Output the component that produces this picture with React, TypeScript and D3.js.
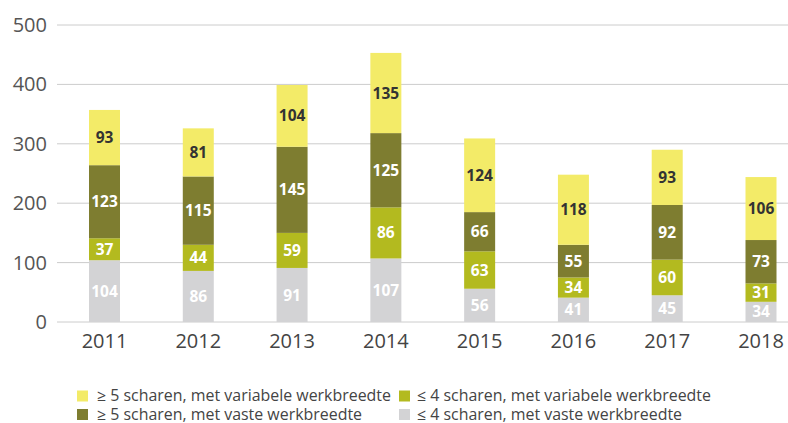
import React from "react";
import * as d3 from "d3";

const years = ["2011", "2012", "2013", "2014", "2015", "2016", "2017", "2018"];
const le4Fixed = [104, 86, 91, 107, 56, 41, 45, 34];
const le4Variable = [37, 44, 59, 86, 63, 34, 60, 31];
const ge5Fixed = [123, 115, 145, 125, 66, 55, 92, 73];
const ge5Variable = [93, 81, 104, 135, 124, 118, 93, 106];
const yTicks = [0, 100, 200, 300, 400, 500];

const seriesNames = [
  "≤ 4 scharen, met vaste werkbreedte",
  "≤ 4 scharen, met variabele werkbreedte",
  "≥ 5 scharen, met vaste werkbreedte",
  "≥ 5 scharen, met variabele werkbreedte",
];
const seriesColors = ["#d3d3d5", "#b3ba1f", "#7e7d30", "#f3eb68"];
const labelColors = ["#ffffff", "#ffffff", "#ffffff", "#333333"];

const W = 788;
const H = 423;
const FONT = "'Open Sans', sans-serif";

export default function App() {
  const table = years.map((y, i) => ({
    year: y,
    s0: le4Fixed[i],
    s1: le4Variable[i],
    s2: ge5Fixed[i],
    s3: ge5Variable[i],
  }));
  const stack = d3.stack<any>().keys(["s0", "s1", "s2", "s3"])(table);

  const x = d3.scalePoint<string>().domain(years).range([104.5, 761]);
  const y = d3.scaleLinear().domain([0, 500]).range([322, 25]);
  const barW = 31;

  const legendItems = [
    { idx: 3, x: 77, tx: 97, y: 396 },
    { idx: 1, x: 399, tx: 417, y: 396 },
    { idx: 2, x: 77, tx: 97, y: 414.5 },
    { idx: 0, x: 399, tx: 417, y: 414.5 },
  ];

  return (
    <div style={{ position: "fixed", left: 0, top: 0 }}>
      <svg width={W} height={H} style={{ display: "block", background: "#fff" }}>
        {yTicks.map((t) => (
          <g key={t}>
            <line x1={57} x2={788} y1={y(t)} y2={y(t)} stroke="#cccccc" strokeWidth={1} />
            <text
              x={47}
              y={y(t)}
              dy="0.35em"
              textAnchor="end"
              fontFamily={FONT}
              fontSize={20}
              fill="#555555"
            >
              {t}
            </text>
          </g>
        ))}
        {stack.map((layer, si) => (
          <g key={si}>
            {layer.map((d, i) => {
              const yTop = y(d[1]);
              const yBot = y(d[0]);
              const cx = x(years[i])!;
              return (
                <g key={i}>
                  <rect
                    x={cx - barW / 2}
                    y={yTop}
                    width={barW}
                    height={yBot - yTop}
                    fill={seriesColors[si]}
                  />
                  <text
                    x={cx}
                    y={(yTop + yBot) / 2}
                    dy="0.36em"
                    textAnchor="middle"
                    fontFamily={FONT}
                    fontWeight={700}
                    fontSize={15.5}
                    fill={labelColors[si]}
                  >
                    {d[1] - d[0]}
                  </text>
                </g>
              );
            })}
          </g>
        ))}
        {years.map((yr) => (
          <text
            key={yr}
            x={x(yr)}
            y={341}
            dy="0.36em"
            textAnchor="middle"
            fontFamily={FONT}
            fontSize={20}
            fill="#444444"
          >
            {yr}
          </text>
        ))}
        {legendItems.map((it) => (
          <g key={it.idx}>
            <rect x={it.x} y={it.y - 5.5} width={11} height={11} fill={seriesColors[it.idx]} />
            <text
              x={it.tx}
              y={it.y}
              dy="0.35em"
              fontFamily={FONT}
              fontSize={15.5}
              fill="#444444"
              textLength={it.idx % 2 === 1 ? 294 : 265}
              lengthAdjust="spacingAndGlyphs"
            >
              {seriesNames[it.idx]}
            </text>
          </g>
        ))}
      </svg>
    </div>
  );
}
